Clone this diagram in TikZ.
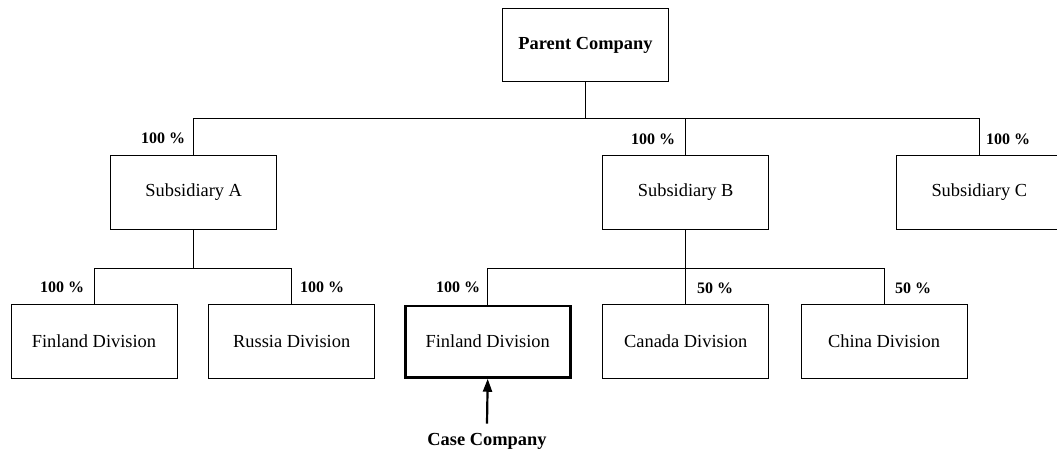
\documentclass[tikz,border=0pt]{standalone}
\usepackage{fontspec}
\setmainfont{Liberation Serif}
\usetikzlibrary{arrows.meta,calc}
\begin{document}
\begin{tikzpicture}[x=1bp,y=-1bp,
  box/.style={draw, line width=0.9bp, minimum width=166bp, minimum height=73.5bp,
              inner sep=0pt, font=\fontsize{18.4bp}{22bp}\selectfont},
  casebox/.style={box, line width=2.6bp, minimum width=165bp, minimum height=71.5bp},
  pct/.style={inner sep=0pt, font=\fontsize{16bp}{19bp}\selectfont\bfseries},
  link/.style={line width=0.9bp},
  pointer/.style={line width=2.2bp, -{Triangle[width=9bp,length=13bp]}}]
\clip (0,0) rectangle (1057,453);

% ownership tree
\node[box, font=\fontsize{18.4bp}{22bp}\selectfont\bfseries] (parent) at (585.5,45) {Parent Company};

\node[box] (subA) at (193.7,192.5) {Subsidiary A};
\node[box] (subB) at (685.7,192.5) {Subsidiary B};
\node[box] (subC) at (979.3,192.5) {Subsidiary C};

\node[box] (finA) at (94,341.7) {Finland Division};
\node[box] (rusA) at (291.7,341.7) {Russia Division};
\node[casebox] (finB) at (487.7,341.7) {Finland Division};
\node[box] (canB) at (685.7,341.7) {Canada Division};
\node[box] (chiB) at (884,341.7) {China Division};

% bus levels
\coordinate (busP) at ($(parent.south)+(0,36.5)$);
\coordinate (busA) at ($(subA.south)+(0,38.5)$);
\coordinate (busB) at ($(subB.south)+(0,38.5)$);

\draw[link] (parent.south) -- (busP);
\draw[link] (subA.north) -- (subA.north |- busP) -- (subC.north |- busP) -- (subC.north);
\draw[link] (subB.north) -- (subB.north |- busP);

\draw[link] (subA.south) -- (busA);
\draw[link] (finA.north) -- (finA.north |- busA) -- (rusA.north |- busA) -- (rusA.north);

\draw[link] (subB.south) -- (busB);
\draw[link] (finB.north) -- (finB.north |- busB) -- (chiB.north |- busB) -- (chiB.north);
\draw[link] (canB.north) -- (canB.north |- busB);

% shareholdings
\node[pct] (pA) at (163,138.5) {100 \%};
\node[pct] (pB) at (653,139.5) {100 \%};
\node[pct] (pC) at (1008,139.5) {100 \%};
\node[pct] (pFa) at (62,287) {100 \%};
\node[pct] (pRa) at (322,287) {100 \%};
\node[pct] (pFb) at (458,287) {100 \%};
\node[pct] (pCb) at (715,288) {50 \%};
\node[pct] (pHb) at (913,288) {50 \%};

% case company marker
\node[inner sep=0pt, font=\fontsize{18.4bp}{22bp}\selectfont\bfseries] (case) at (487,441) {Case Company};
\draw[pointer] ($(case.north)+(0,-9)$) -- (finB.south);
\end{tikzpicture}
\end{document}
